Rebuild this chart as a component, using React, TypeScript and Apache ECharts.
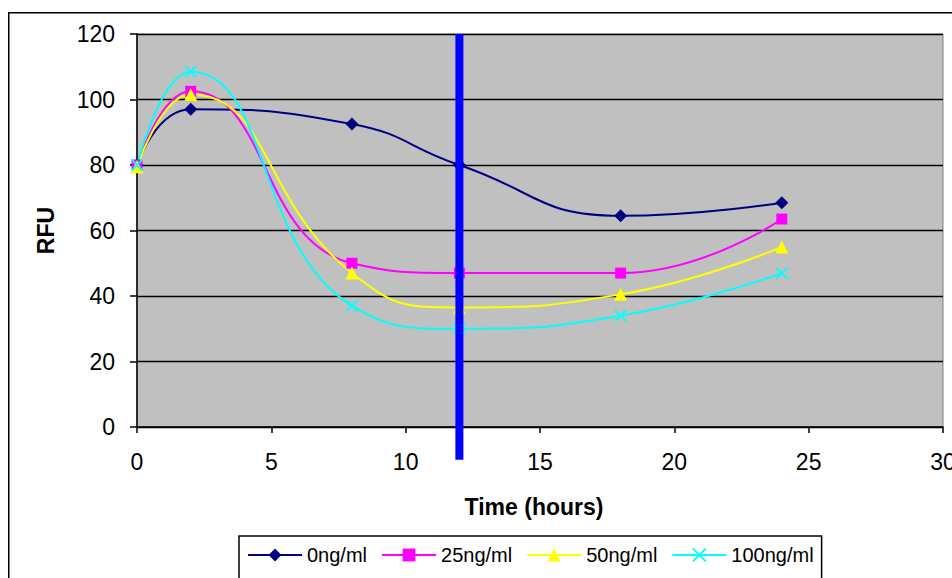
import React, { useEffect, useRef } from "react";
import * as echarts from "echarts";

const hours = [0, 2, 8, 12, 18, 24];
const rfu0 = [80, 97, 92.5, 80, 64.5, 68.5];
const rfu25 = [80, 102.5, 50, 47, 47, 63.5];
const rfu50 = [79.5, 101.5, 47, 36.5, 40.5, 55];
const rfu100 = [80, 108.5, 37, 30, 34, 47];
const seriesNames = ["0ng/ml", "25ng/ml", "50ng/ml", "100ng/ml"];
const treatmentHour = [12, 12];
const treatmentSpan = [120, -10];
const xTicks = { min: 0, max: 30, interval: 5 };
const yTicks = { min: 0, max: 120, interval: 20 };

const FONT = "'Liberation Sans', Arial, sans-serif";
const CROSS = "path://M0,0L10,10M10,0L0,10";

function pairs(xs: number[], ys: number[]) {
  return xs.map((x, i) => [x, ys[i]]);
}

export default function App() {
  const ref = useRef<HTMLDivElement>(null);
  useEffect(() => {
    if (!ref.current) return;
    const chart = echarts.init(ref.current, undefined, { renderer: "svg" });
    const lineSeries = (name: string, ys: number[], color: string, symbol: string, size: number, extra: any = {}) => ({
      name,
      type: "line",
      data: pairs(hours, ys),
      smooth: 0.5,
      symbol,
      symbolSize: size,
      lineStyle: { color, width: 2 },
      itemStyle: { color, ...(extra.itemStyle || {}) },
      emphasis: { disabled: true },
      z: 3,
    });
    chart.setOption({
      animation: false,
      textStyle: { fontFamily: FONT },
      graphic: [
        {
          type: "rect",
          silent: true,
          shape: { x: 8.75, y: 12.75, width: 1200, height: 1000 },
          style: { fill: "none", stroke: "#000", lineWidth: 1.5 },
          z: 0,
        },
      ],
      grid: {
        left: 137,
        right: 9,
        top: 34,
        bottom: 151,
        show: true,
        backgroundColor: "#C0C0C0",
        borderColor: "#808080",
        borderWidth: 1,
        containLabel: false,
        outerBoundsMode: "none",
      },
      xAxis: {
        type: "value",
        min: xTicks.min,
        max: xTicks.max,
        interval: xTicks.interval,
        name: "Time (hours)",
        nameLocation: "middle",
        nameGap: 68,
        nameTextStyle: {
          fontSize: 23,
          fontWeight: "bold",
          color: "#000",
          fontFamily: FONT,
          padding: [0, 12, 0, 0],
        },
        axisLine: { show: true, lineStyle: { color: "#000", width: 1.5 } },
        axisTick: { show: true, length: 6, lineStyle: { color: "#000", width: 1.5 } },
        axisLabel: { fontSize: 23, color: "#000", margin: 23, fontFamily: FONT, hideOverlap: false },
        splitLine: { show: false },
      },
      yAxis: {
        type: "value",
        min: yTicks.min,
        max: yTicks.max,
        interval: yTicks.interval,
        name: "RFU",
        nameLocation: "middle",
        nameGap: 80,
        nameTextStyle: { fontSize: 23, fontWeight: "bold", color: "#000", fontFamily: FONT },
        axisLine: { show: true, lineStyle: { color: "#000", width: 1.5 } },
        axisTick: { show: true, length: 7, lineStyle: { color: "#000", width: 1.5 } },
        axisLabel: { fontSize: 23, color: "#000", margin: 22, fontFamily: FONT },
        splitLine: { show: true, lineStyle: { color: "#000", width: 1.3 } },
      },
      legend: {
        data: seriesNames,
        left: 239,
        top: 536,
        padding: [9, 8, 40, 8],
        itemGap: 14,
        itemWidth: 54,
        itemHeight: 16,
        borderColor: "#000",
        borderWidth: 1.5,
        backgroundColor: "#fff",
        textStyle: { fontSize: 20, color: "#000", fontFamily: FONT },
      },
      series: [
        lineSeries(seriesNames[0], rfu0, "#000080", "diamond", 13),
        lineSeries(seriesNames[1], rfu25, "#FF00FF", "rect", 11),
        lineSeries(seriesNames[2], rfu50, "#FFFF00", "triangle", 13),
        lineSeries(seriesNames[3], rfu100, "#00FFFF", CROSS, 11, {
          itemStyle: { borderColor: "#00FFFF", borderWidth: 1.8 },
        }),
        {
          name: "treatment",
          type: "line",
          data: pairs(treatmentHour, treatmentSpan),
          symbol: "none",
          clip: false,
          silent: true,
          lineStyle: { color: "#0000FF", width: 8 },
          z: 5,
        },
      ],
    });
    return () => chart.dispose();
  }, []);
  return (
    <div
      ref={ref}
      style={{ position: "fixed", left: 0, top: 0, width: 952, height: 578, background: "#fff" }}
    />
  );
}
